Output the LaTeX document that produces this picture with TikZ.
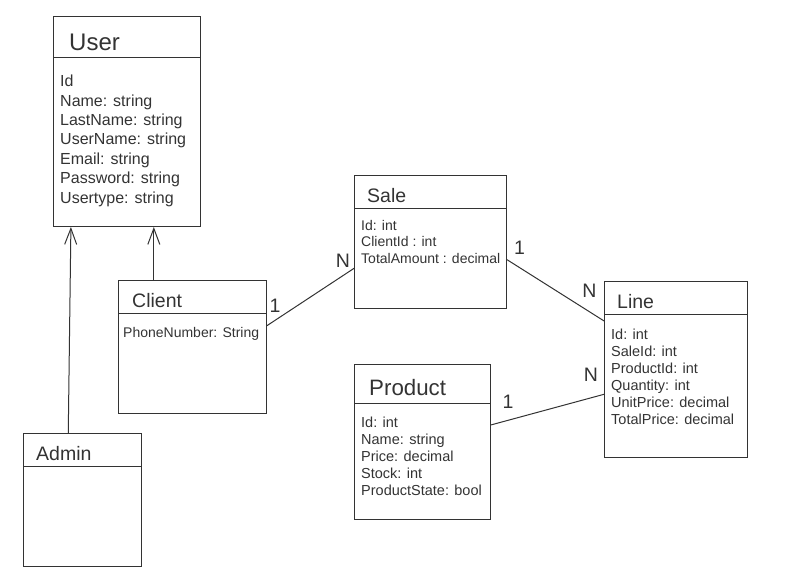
\documentclass[tikz,border=0pt]{standalone}
\usepackage{fontspec}
\setmainfont{Liberation Sans}
\usetikzlibrary{arrows.meta}

\definecolor{umlgray}{RGB}{51,51,51}
\tikzset{
  classbox/.style={draw=umlgray, line width=1pt, anchor=north west, inner sep=0pt},
  classrule/.style={draw=umlgray, line width=1pt},
  classname/.style={anchor=base west, inner sep=0pt, text=umlgray, font=\fontsize{19.5}{19.5}\selectfont},
  attr/.style={anchor=base west, inner sep=0pt, text=umlgray, font=\fontsize{14.5}{17}\selectfont},
  mult/.style={anchor=base, inner sep=0pt, text=umlgray, font=\fontsize{19.5}{19.5}\selectfont},
  inherits/.style={draw=umlgray, line width=1pt, -{Straight Barb[length=16pt,width=12pt,line width=1pt]}},
  assoc/.style={draw=umlgray, line width=1pt}
}

\begin{document}
\begin{tikzpicture}[x=1pt,y=1pt,yscale=-1,xscale=1]
\useasboundingbox (0,0) rectangle (811,579);

%Shape: Class User
\node [classbox, minimum width=147pt, minimum height=210pt] (user) at (53,16) {};
\draw [classrule] (53,57) -- (200,57) ;
%Shape: Class Client
\node [classbox, minimum width=148pt, minimum height=133pt] (client) at (118,280) {};
\draw [classrule] (118,313) -- (266,313) ;
%Shape: Class Admin
\node [classbox, minimum width=118pt, minimum height=133pt] (admin) at (23,433) {};
\draw [classrule] (23,466) -- (141,466) ;
%Shape: Class Sale
\node [classbox, minimum width=152pt, minimum height=133pt] (sale) at (354,175) {};
\draw [classrule] (354,208) -- (506,208) ;
%Shape: Class Line
\node [classbox, minimum width=143pt, minimum height=176pt] (line) at (604,281) {};
\draw [classrule] (604,314) -- (747,314) ;
%Shape: Class Product
\node [classbox, minimum width=136pt, minimum height=155pt] (product) at (354,364) {};
\draw [classrule] (354,403) -- (490,403) ;

%Straight Lines: inheritance
\draw [inherits] (admin.102.7) -- (user.242.6) ;
\draw [inherits] (client.120.4) -- (client.120.4 |- user.south) ;

%Straight Lines: associations
\draw [assoc] (client.16.9) -- (sale.199.2) ;
\draw [assoc] (sale.347.8) -- (line.146.7) ;
\draw [assoc] (product.14.4) -- (line.199.3) ;

% Text Node
\node [classname, font=\fontsize{24}{24}\selectfont] (user-name) at (69,50) {User};
\node [attr, font=\fontsize{16}{19}\selectfont] (user-a1) at (60,86.7) {Id};
\node [attr, font=\fontsize{16}{19}\selectfont] (user-a2) at (60,106.1) {Name: string};
\node [attr, font=\fontsize{16}{19}\selectfont] (user-a3) at (60,125.5) {LastName: string};
\node [attr, font=\fontsize{16}{19}\selectfont] (user-a4) at (60,144.9) {UserName: string};
\node [attr, font=\fontsize{16}{19}\selectfont] (user-a5) at (60,164.3) {Email: string};
\node [attr, font=\fontsize{16}{19}\selectfont] (user-a6) at (60,183.7) {Password: string};
\node [attr, font=\fontsize{16}{19}\selectfont] (user-a7) at (60,203.1) {Usertype: string};
% Text Node
\node [classname] (client-name) at (132,307) {Client};
\node [attr, font=\fontsize{14}{17}\selectfont] (client-a1) at (123,337) {PhoneNumber: String};
% Text Node
\node [classname] (admin-name) at (36,460) {Admin};
% Text Node
\node [classname] (sale-name) at (367,202) {Sale};
\node [attr, font=\fontsize{14}{17}\selectfont] (sale-a1) at (361,230) {Id: int};
\node [attr, font=\fontsize{14}{17}\selectfont] (sale-a2) at (361,246.5) {ClientId : int};
\node [attr, font=\fontsize{14}{17}\selectfont] (sale-a3) at (361,263) {TotalAmount : decimal};
% Text Node
\node [classname] (line-name) at (617,308) {Line};
\node [attr] (line-a1) at (611,339) {Id: int};
\node [attr] (line-a2) at (611,356) {SaleId: int};
\node [attr] (line-a3) at (611,373) {ProductId: int};
\node [attr] (line-a4) at (611,390) {Quantity: int};
\node [attr] (line-a5) at (611,407) {UnitPrice: decimal};
\node [attr] (line-a6) at (611,424) {TotalPrice: decimal};
% Text Node
\node [classname, font=\fontsize{22.3}{22.3}\selectfont] (product-name) at (369,395) {Product};
\node [attr] (product-a1) at (361,427) {Id: int};
\node [attr] (product-a2) at (361,444) {Name: string};
\node [attr] (product-a3) at (361,461) {Price: decimal};
\node [attr] (product-a4) at (361,478) {Stock: int};
\node [attr] (product-a5) at (361,495) {ProductState: bool};

% Text Node: multiplicities
\node [mult] (m-client) at (275,312) {1};
\node [mult] (m-sale-client) at (343,267) {N};
\node [mult] (m-sale-line) at (519.5,254) {1};
\node [mult] (m-line-sale) at (589.5,297) {N};
\node [mult] (m-product) at (508,408) {1};
\node [mult] (m-line-product) at (591,381) {N};

\end{tikzpicture}
\end{document}
